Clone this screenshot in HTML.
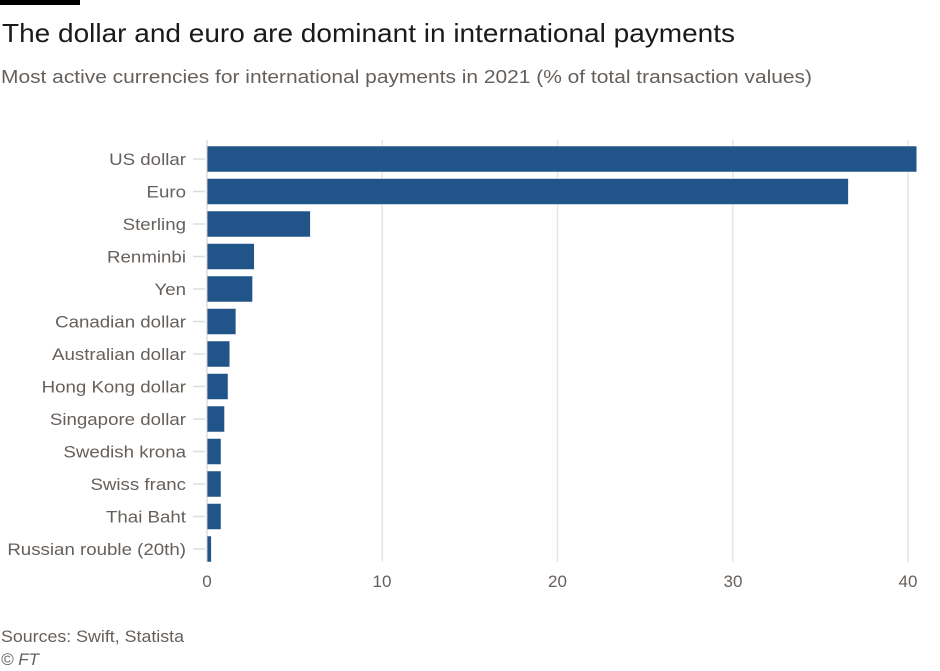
<!DOCTYPE html>
<html><head><meta charset="utf-8"><style>
body{margin:0;background:#fff;}
svg{display:block;font-family:"Liberation Sans","DejaVu Sans",sans-serif;}
</style></head><body>
<svg width="940" height="671" viewBox="0 0 940 671" xmlns="http://www.w3.org/2000/svg">
<rect x="0" y="0" width="80" height="5" fill="#000"/>
<text x="2" y="42" font-size="26" fill="#1a1a1a" textLength="733" lengthAdjust="spacingAndGlyphs">The dollar and euro are dominant in international payments</text>
<text x="1" y="83" font-size="18" fill="#66605c" textLength="811" lengthAdjust="spacingAndGlyphs">Most active currencies for international payments in 2021 (% of total transaction values)</text>
<g stroke="#e9e3e1" stroke-width="1.5">
<line x1="382.3" y1="140" x2="382.3" y2="562"/>
<line x1="557.5" y1="140" x2="557.5" y2="562"/>
<line x1="732.8" y1="140" x2="732.8" y2="562"/>
<line x1="908" y1="140" x2="908" y2="562"/>
</g>
<g font-size="17" fill="#66605c" text-anchor="middle">
<text x="207" y="587">0</text><text x="382" y="587">10</text><text x="557.5" y="587">20</text><text x="733" y="587">30</text><text x="908" y="587">40</text>
</g>
<g id="bars" fill="#215488" stroke="#fff" stroke-width="0.5"></g>
<g id="labels" font-size="17" fill="#66605c" text-anchor="end"></g>
<g id="ticks" stroke="#ddd" stroke-width="1.5"></g>
<line x1="207" y1="140" x2="207" y2="562" stroke="#ccc" stroke-width="1"/>
<text x="1" y="642" font-size="17" fill="#66605c" textLength="183" lengthAdjust="spacingAndGlyphs">Sources: Swift, Statista</text>
<text x="1" y="665" font-size="17" fill="#66605c" font-style="italic">© FT</text>
<script>
var d=[["US dollar",40.5],["Euro",36.6],["Sterling",5.9],["Renminbi",2.7],["Yen",2.6],["Canadian dollar",1.65],["Australian dollar",1.3],["Hong Kong dollar",1.2],["Singapore dollar",1.0],["Swedish krona",0.8],["Swiss franc",0.8],["Thai Baht",0.8],["Russian rouble (20th)",0.25]];
var ns="http://www.w3.org/2000/svg",b=document.getElementById("bars"),l=document.getElementById("labels"),t=document.getElementById("ticks");
d.forEach(function(r,i){var c=159+i*32.5;
var e=document.createElementNS(ns,"rect");e.setAttribute("x",207);e.setAttribute("y",c-13);e.setAttribute("width",r[1]*17.525);e.setAttribute("height",26);b.appendChild(e);
var x=document.createElementNS(ns,"text");x.setAttribute("x",186);x.setAttribute("y",c+6);x.setAttribute("transform","translate(186,0) scale(1.1,1) translate(-186,0)");x.textContent=r[0];l.appendChild(x);
var k=document.createElementNS(ns,"line");k.setAttribute("x1",193);k.setAttribute("x2",205);k.setAttribute("y1",c);k.setAttribute("y2",c);t.appendChild(k);});
</script>
</svg>
</body></html>
